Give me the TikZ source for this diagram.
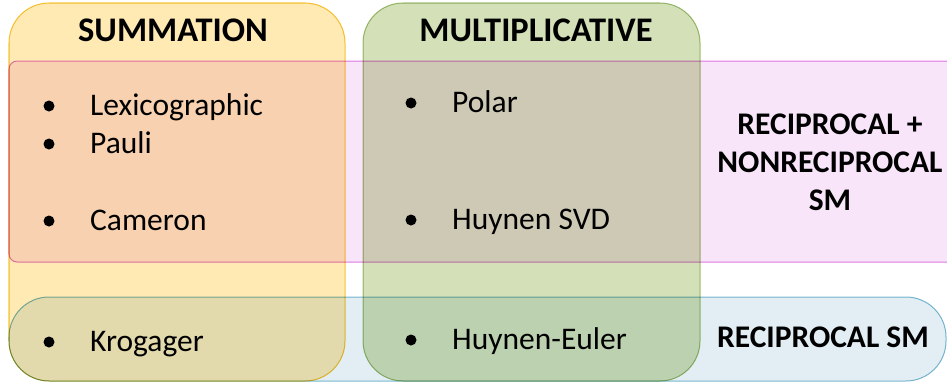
\documentclass[tikz,border=0pt]{standalone}
\usepackage{fontspec}
\setmainfont{Carlito}
\usetikzlibrary{positioning}

\definecolor{sumfill}{HTML}{FFEAB4}
\definecolor{sumline}{HTML}{F5C83B}
\definecolor{mulfill}{HTML}{D3E0B8}
\definecolor{mulline}{HTML}{A5C27A}
\definecolor{nrfill}{HTML}{F8E5FA}
\definecolor{nrline}{HTML}{E27EE6}
\definecolor{recfill}{HTML}{E2EEF4}
\definecolor{recline}{HTML}{7EBCD4}

\begin{document}
\begin{tikzpicture}[x=1pt,y=-1pt,
  head/.style={font=\fontsize{34.5}{40}\selectfont\bfseries,anchor=base},
  side/.style={font=\fontsize{31.5}{38}\selectfont\bfseries,align=center},
  entry/.style={font=\fontsize{31.5}{36}\selectfont,anchor=base west,inner sep=0pt},
  dot/.style={circle,fill=black,inner sep=0pt,minimum size=11pt}]
  \useasboundingbox (0,0) rectangle (947,383);

  % the four sets
  \begin{scope}[blend group=multiply,line width=1.5pt]
    \draw[sumline,fill=sumfill,rounded corners=40pt] (9,3) rectangle (345,381);
    \draw[mulline,fill=mulfill,rounded corners=40pt] (363,3) rectangle (700,381);
    \draw[nrline,fill=nrfill,rounded corners=8pt] (9,61) rectangle (960,262);
    \draw[recline,fill=recfill,rounded corners=40pt] (9,297) rectangle (946,381);
  \end{scope}

  \node[head] (sum) at (173,41) {SUMMATION};
  \node[head] (mul) at (536,41) {MULTIPLICATIVE};

  % bullet lists (baselines)
  \foreach \name/\txt/\y in {lex/Lexicographic/115,pau/Pauli/153,cam/Cameron/230,kro/Krogager/351} {
    \node[dot] (\name b) at (49,\y-9) {};
    \node[entry] (\name) at (90,\y) {\txt};
  }
  \foreach \name/\txt/\y in {pol/Polar/112,svd/Huynen SVD/229,eul/Huynen-Euler/349} {
    \node[dot] (\name b) at (411,\y-9) {};
    \node[entry] (\name) at (452,\y) {\txt};
  }

  \node[side] (nonrec) at (830,162) {RECIPROCAL +\\NONRECIPROCAL\\SM};
  \node[side,anchor=base] (rec) at (823,347) {RECIPROCAL SM};
\end{tikzpicture}
\end{document}
